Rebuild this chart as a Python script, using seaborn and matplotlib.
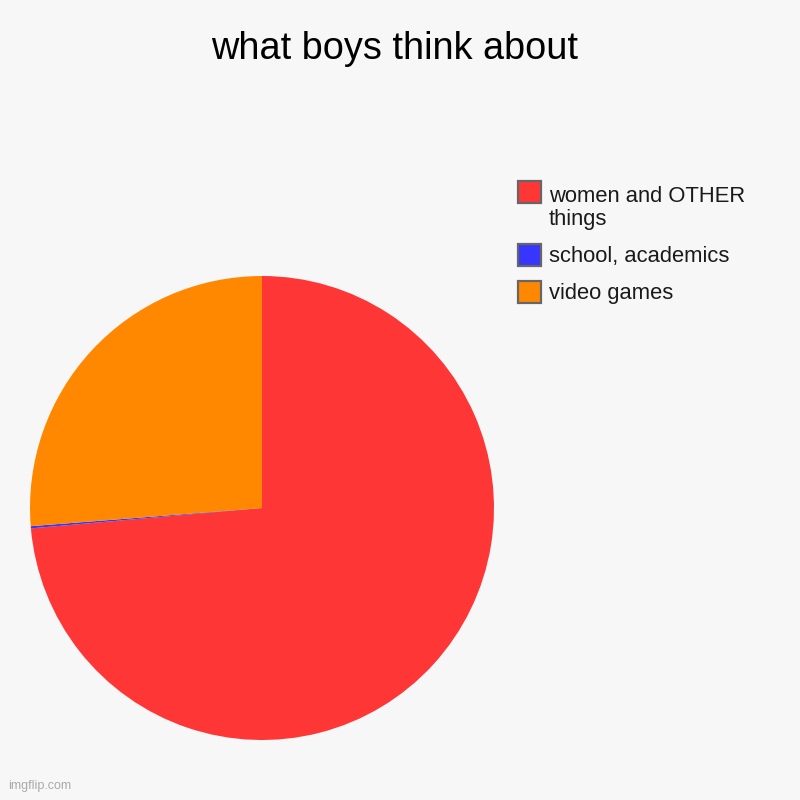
"""Pie chart: what boys think about (recreated with seaborn/matplotlib)."""

import matplotlib

matplotlib.use("Agg")

import matplotlib.pyplot as plt
from matplotlib.patches import Rectangle
import seaborn as sns

# data, in drawing order (clockwise from 12 o'clock)
categorias = ["women and OTHER\nthings", "school, academics", "video games"]
valores = [73.6, 0.15, 26.25]
colores = ["#ff3636", "#3636ff", "#ff8800"]

FONDO = "#f7f7f7"
ANCHO, ALTO = 800, 800

sns.set_theme(style="white")
plt.rcParams["font.family"] = ["Liberation Sans", "DejaVu Sans"]

fig = plt.figure(figsize=(8, 8), dpi=100, facecolor=FONDO)

# pie axes: centre (262, 508) px, radius 232 px
eje = fig.add_axes([30 / ANCHO, 60 / ALTO, 464 / ANCHO, 464 / ALTO])
eje.set_facecolor(FONDO)
eje.pie(valores, colors=colores, startangle=90, counterclock=False,
        wedgeprops={"linewidth": 0}, radius=1)
eje.set_xlim(-1, 1)
eje.set_ylim(-1, 1)
eje.set_aspect("equal")
eje.axis("off")

fig.text(395 / ANCHO, 1 - 59 / ALTO, "what boys think about", ha="center",
         va="baseline", fontsize=27.3, color="#000000")

# legend drawn by hand: box tops and baseline of each label's last line (px)
tops_caja = [181, 244, 281]
bases_texto = [225, 262, 299]
for cat, color, top, base in zip(categorias, colores, tops_caja, bases_texto):
    fig.patches.append(Rectangle((518 / ANCHO, 1 - (top + 22) / ALTO),
                                 23 / ANCHO, 22 / ALTO, facecolor=color,
                                 edgecolor="#666666", linewidth=1.6,
                                 transform=fig.transFigure, figure=fig))
    fig.text(549 / ANCHO, 1 - base / ALTO, cat, ha="left", va="baseline",
             fontsize=15.8, color="#1a1a1a", linespacing=1.13,
             multialignment="left")

fig.text(8 / ANCHO, 1 - 792 / ALTO, "imgflip.com", ha="left", va="bottom",
         fontsize=9, color="#aaaaaa")

fig.savefig("out.png", dpi=100, facecolor=FONDO)
